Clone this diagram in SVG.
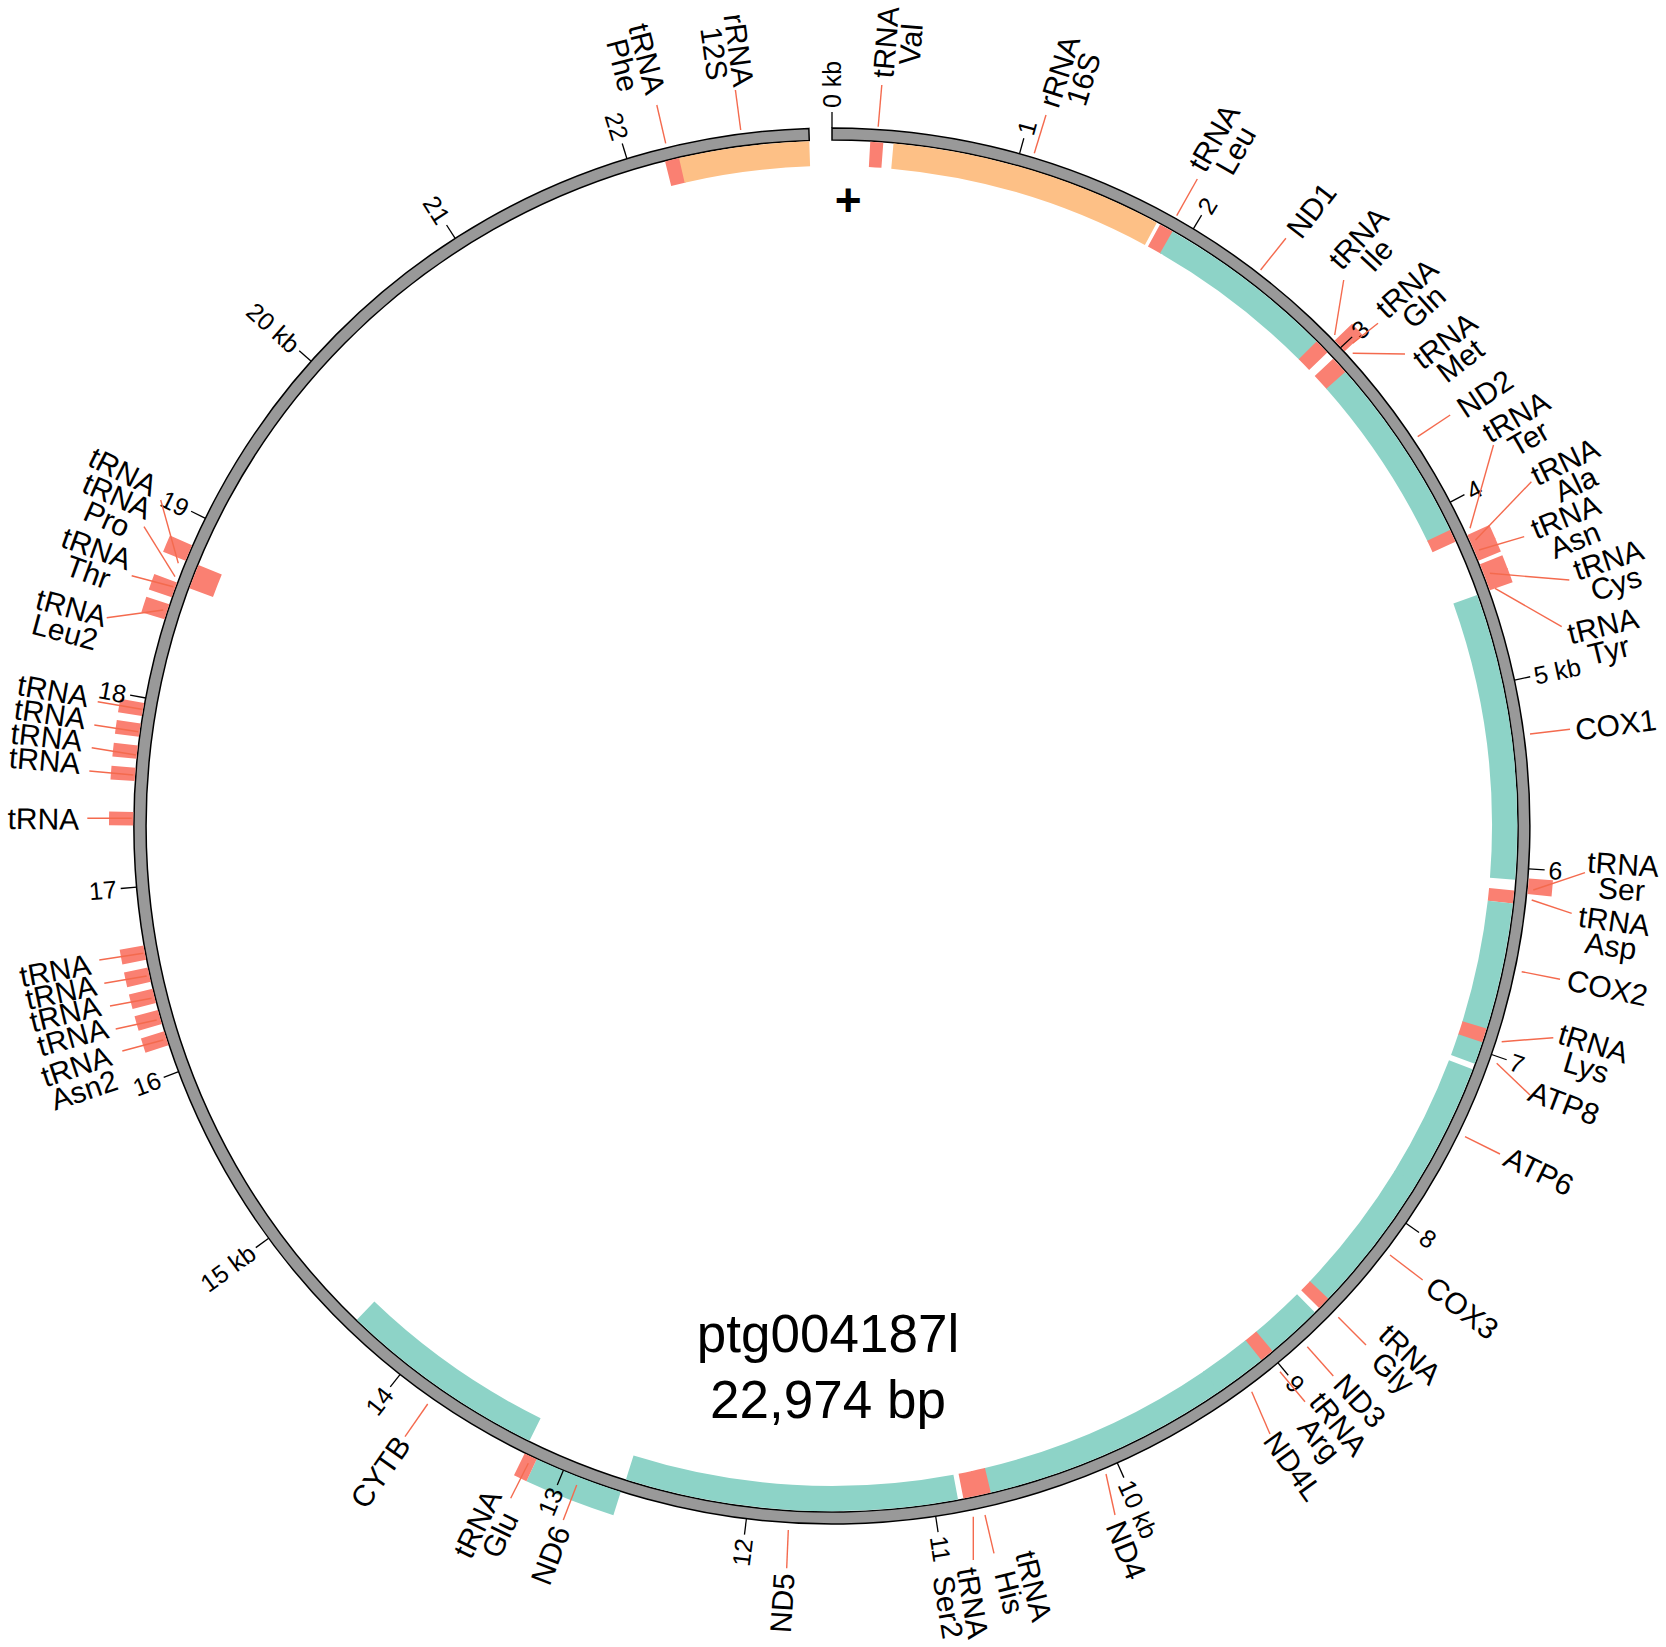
<svg xmlns="http://www.w3.org/2000/svg" width="1666" height="1647" viewBox="0 0 1666 1647">
<style>
text{font-family:'Liberation Sans',Arial,Helvetica,sans-serif;fill:#000}
.lab,.lab tspan{font-size:30px;text-anchor:middle;dominant-baseline:central}
.tk line{stroke:#000;stroke-width:1.3}
.tk text{font-size:25px;text-anchor:start;dominant-baseline:central}
.tk text.e{text-anchor:end}
.in{fill:none;stroke-width:25.2}
.out{fill:none;stroke-width:24.2}
.trna{stroke:#FA8072}
.rrna{stroke:#FDC086}
.gene{stroke:#8DD3C7}
</style>
<rect width="1666" height="1647" fill="#fff"/>
<g id="ring" transform="translate(832 826)">
<path d="M 0,-698 A 698 698 0 1 1 -23.15,-697.62 L -22.75,-685.62 A 686 686 0 1 0 0,-686 Z" fill="#999" stroke="#000" stroke-width="1.5"/>
</g>
<g id="features" transform="translate(832 826)">
<g id="f-trna-val"><circle class="in trna" r="672.6" stroke-dasharray="12.91 5000" transform="rotate(-86.8)"/><text class="lab" transform="rotate(-85.2) translate(785.5 0)"><tspan x="0" y="-12.5">tRNA</tspan><tspan x="0" y="12.5">Val</tspan></text></g>
<g id="f-rrna-16s"><circle class="in rrna" r="672.6" stroke-dasharray="271.76 5000" transform="rotate(-84.85)"/><text class="lab" transform="rotate(-72.35) translate(788 0)"><tspan x="0" y="-12.5">rRNA</tspan><tspan x="0" y="12.5">16S</tspan></text></g>
<g id="f-trna-leu"><circle class="in trna" r="672.6" stroke-dasharray="15.26 5000" transform="rotate(-61.4)"/><text class="lab" transform="rotate(-60.1) translate(787 0)"><tspan x="0" y="-12.5">tRNA</tspan><tspan x="0" y="12.5">Leu</tspan></text></g>
<g id="f-nd1"><circle class="in gene" r="672.6" stroke-dasharray="179.61 5000" transform="rotate(-60.2)"/><text class="lab" transform="rotate(-52.13) translate(780.3 0)"><tspan x="0" y="0">ND1</tspan></text></g>
<g id="f-trna-ile"><circle class="in trna" r="672.6" stroke-dasharray="15.26 5000" transform="rotate(-45)"/><text class="lab" transform="rotate(-47.3) translate(789 0)"><tspan x="0" y="-12.5">tRNA</tspan><tspan x="0" y="12.5">Ile</tspan></text></g>
<g id="f-trna-met"><circle class="in trna" r="672.6" stroke-dasharray="18.78 5000" transform="rotate(-43)"/><text class="lab" transform="rotate(-37.5) translate(781.7 0)"><tspan x="0" y="-12.5">tRNA</tspan><tspan x="0" y="12.5">Met</tspan></text></g>
<g id="f-nd2"><circle class="in gene" r="672.6" stroke-dasharray="187.82 5000" transform="rotate(-41.5)"/><text class="lab" transform="rotate(-33.55) translate(783 0)"><tspan x="0" y="0">ND2</tspan></text></g>
<g id="f-trna-ter"><circle class="in trna" r="672.6" stroke-dasharray="12.91 5000" transform="rotate(-25.6)"/><text class="lab" transform="rotate(-30.04) translate(797 0)"><tspan x="0" y="-12.5">tRNA</tspan><tspan x="0" y="12.5">Ter</tspan></text></g>
<g id="f-cox1"><circle class="in gene" r="672.6" stroke-dasharray="284.08 5000" transform="rotate(-19.7)"/><text class="lab" transform="rotate(-7.4) translate(790.3 0)"><tspan x="0" y="0">COX1</tspan></text></g>
<g id="f-trna-asp"><circle class="in trna" r="672.6" stroke-dasharray="12.91 5000" transform="rotate(5.4)"/><text class="lab" transform="rotate(7.8) translate(787.8 0)"><tspan x="0" y="-12.5">tRNA</tspan><tspan x="0" y="12.5">Asp</tspan></text></g>
<g id="f-cox2"><circle class="in gene" r="672.6" stroke-dasharray="126.78 5000" transform="rotate(6.5)"/><text class="lab" transform="rotate(11.75) translate(792 0)"><tspan x="0" y="0">COX2</tspan></text></g>
<g id="f-trna-lys"><circle class="in trna" r="672.6" stroke-dasharray="15.26 5000" transform="rotate(17.2)"/><text class="lab" transform="rotate(16.8) translate(791.8 0)"><tspan x="0" y="-12.5">tRNA</tspan><tspan x="0" y="12.5">Lys</tspan></text></g>
<g id="f-atp8"><circle class="in gene" r="672.6" stroke-dasharray="22.30 5000" transform="rotate(18.4)"/><text class="lab" transform="rotate(20.7) translate(782.7 0)"><tspan x="0" y="0">ATP8</tspan></text></g>
<g id="f-atp6"><circle class="in gene" r="672.6" stroke-dasharray="126.78 5000" transform="rotate(20.8)"/><text class="lab" transform="rotate(26) translate(786.7 0)"><tspan x="0" y="0">ATP6</tspan></text></g>
<g id="f-cox3"><circle class="in gene" r="672.6" stroke-dasharray="143.22 5000" transform="rotate(31.5)"/><text class="lab" transform="rotate(37.37) translate(793.3 0)"><tspan x="0" y="0">COX3</tspan></text></g>
<g id="f-trna-gly"><circle class="in trna" r="672.6" stroke-dasharray="12.91 5000" transform="rotate(43.6)"/><text class="lab" transform="rotate(43.3) translate(783 0)"><tspan x="0" y="-12.5">tRNA</tspan><tspan x="0" y="12.5">Gly</tspan></text></g>
<g id="f-nd3"><circle class="in gene" r="672.6" stroke-dasharray="57.52 5000" transform="rotate(45.2)"/><text class="lab" transform="rotate(47.4) translate(780.4 0)"><tspan x="0" y="0">ND3</tspan></text></g>
<g id="f-trna-arg"><circle class="in trna" r="672.6" stroke-dasharray="15.26 5000" transform="rotate(50)"/><text class="lab" transform="rotate(50.6) translate(783.5 0)"><tspan x="0" y="-12.5">tRNA</tspan><tspan x="0" y="12.5">Arg</tspan></text></g>
<g id="f-nd4l"><circle class="in gene" r="672.6" stroke-dasharray="54.0 5000" transform="rotate(51.2)"/><text class="lab" transform="rotate(54.2) translate(788.8 0)"><tspan x="0" y="0">ND4L</tspan></text></g>
<g id="f-nd4"><circle class="in gene" r="672.6" stroke-dasharray="246.52 5000" transform="rotate(55.7)"/><text class="lab" transform="rotate(67.85) translate(781.7 0)"><tspan x="0" y="0">ND4</tspan></text></g>
<g id="f-trna-his"><circle class="in trna" r="672.6" stroke-dasharray="14.67 5000" transform="rotate(76.6)"/><text class="lab" transform="rotate(76) translate(786.4 0)"><tspan x="0" y="-12.5">tRNA</tspan><tspan x="0" y="12.5">His</tspan></text></g>
<g id="f-trna-ser2"><circle class="in trna" r="672.6" stroke-dasharray="14.09 5000" transform="rotate(77.75)"/><text class="lab" transform="rotate(80.6) translate(789.6 0)"><tspan x="0" y="-12.5">tRNA</tspan><tspan x="0" y="12.5">Ser2</tspan></text></g>
<g id="f-nd5"><circle class="in gene" r="672.6" stroke-dasharray="329.87 5000" transform="rotate(79.4)"/><text class="lab" transform="rotate(93.7) translate(778.6 0) rotate(180)"><tspan x="0" y="0">ND5</tspan></text></g>
<g id="f-cytb"><circle class="in gene" r="672.6" stroke-dasharray="207.78 5000" transform="rotate(116.2)"/><text class="lab" transform="rotate(124.99) translate(788.2 0) rotate(180)"><tspan x="0" y="0">CYTB</tspan></text></g>
<g id="f-trna-pro"><circle class="in trna" r="672.6" stroke-dasharray="24.65 5000" transform="rotate(200.3)"/><text class="lab" transform="rotate(203.9) translate(787.2 0) rotate(180)"><tspan x="0" y="-12.5">tRNA</tspan><tspan x="0" y="12.5">Pro</tspan></text></g>
<g id="f-trna-phe"><circle class="in trna" r="672.6" stroke-dasharray="15.26 5000" transform="rotate(255.9)"/><text class="lab" transform="rotate(255.57) translate(789 0) rotate(180)"><tspan x="0" y="-12.5">tRNA</tspan><tspan x="0" y="12.5">Phe</tspan></text></g>
<g id="f-rrna-12s"><circle class="in rrna" r="672.6" stroke-dasharray="129.13 5000" transform="rotate(257.1)"/><text class="lab" transform="rotate(262.28) translate(781.4 0) rotate(180)"><tspan x="0" y="-12.5">rRNA</tspan><tspan x="0" y="12.5">12S</tspan></text></g>

<g id="f-trna-gln"><circle class="out trna" r="710.9" stroke-dasharray="14.89 5000" transform="rotate(-44)"/><text class="lab" transform="rotate(-42.22) translate(787 0)"><tspan x="0" y="-12.5">tRNA</tspan><tspan x="0" y="12.5">Gln</tspan></text></g>
<g id="f-trna-ala"><circle class="out trna" r="710.9" stroke-dasharray="14.89 5000" transform="rotate(-24.6)"/><text class="lab" transform="rotate(-25.6) translate(818.5 0)"><tspan x="0" y="-12.5">tRNA</tspan><tspan x="0" y="12.5">Ala</tspan></text></g>
<g id="f-trna-asn"><circle class="out trna" r="710.9" stroke-dasharray="14.89 5000" transform="rotate(-23.5)"/><text class="lab" transform="rotate(-22) translate(796 0)"><tspan x="0" y="-12.5">tRNA</tspan><tspan x="0" y="12.5">Asn</tspan></text></g>
<g id="f-trna-cys"><circle class="out trna" r="710.9" stroke-dasharray="14.89 5000" transform="rotate(-22)"/><text class="lab" transform="rotate(-18.1) translate(820.6 0)"><tspan x="0" y="-12.5">tRNA</tspan><tspan x="0" y="12.5">Cys</tspan></text></g>
<g id="f-trna-tyr"><circle class="out trna" r="710.9" stroke-dasharray="14.89 5000" transform="rotate(-20.9)"/><text class="lab" transform="rotate(-13.7) translate(796.4 0)"><tspan x="0" y="-12.5">tRNA</tspan><tspan x="0" y="12.5">Tyr</tspan></text></g>
<g id="f-trna-ser"><circle class="out trna" r="710.9" stroke-dasharray="16.13 5000" transform="rotate(4.3)"/><text class="lab" transform="rotate(3.64) translate(792 0)"><tspan x="0" y="-12.5">tRNA</tspan><tspan x="0" y="12.5">Ser</tspan></text></g>
<g id="f-nd6"><circle class="out gene" r="710.9" stroke-dasharray="91.82 5000" transform="rotate(107.6)"/><text class="lab" transform="rotate(111.15) translate(781.6 0) rotate(180)"><tspan x="0" y="0">ND6</tspan></text></g>
<g id="f-trna-glu"><circle class="out trna" r="710.9" stroke-dasharray="13.65 5000" transform="rotate(115)"/><text class="lab" transform="rotate(116.07) translate(782.7 0) rotate(180)"><tspan x="0" y="-12.5">tRNA</tspan><tspan x="0" y="12.5">Glu</tspan></text></g>
<g id="f-trna-asn2"><circle class="out trna" r="710.9" stroke-dasharray="14.89 5000" transform="rotate(161.72)"/><text class="lab" transform="rotate(161.5) translate(793 0) rotate(180)"><tspan x="0" y="-12.5">tRNA</tspan><tspan x="0" y="12.5">Asn2</tspan></text></g>
<g id="f-trna-u4"><circle class="out trna" r="710.9" stroke-dasharray="14.89 5000" transform="rotate(163.54)"/><text class="lab" transform="rotate(164.5) translate(788.2 0) rotate(180)"><tspan x="0" y="0">tRNA</tspan></text></g>
<g id="f-trna-u3"><circle class="out trna" r="710.9" stroke-dasharray="14.89 5000" transform="rotate(165.33)"/><text class="lab" transform="rotate(166.28) translate(789.5 0) rotate(180)"><tspan x="0" y="0">tRNA</tspan></text></g>
<g id="f-trna-u2"><circle class="out trna" r="710.9" stroke-dasharray="14.89 5000" transform="rotate(167.12)"/><text class="lab" transform="rotate(167.87) translate(788.8 0) rotate(180)"><tspan x="0" y="0">tRNA</tspan></text></g>
<g id="f-trna-u1"><circle class="out trna" r="710.9" stroke-dasharray="14.89 5000" transform="rotate(168.96)"/><text class="lab" transform="rotate(169.5) translate(790.2 0) rotate(180)"><tspan x="0" y="0">tRNA</tspan></text></g>
<g id="f-trna-u5"><circle class="out trna" r="710.9" stroke-dasharray="13.65 5000" transform="rotate(180.05)"/><text class="lab" transform="rotate(180.56) translate(788.7 0) rotate(180)"><tspan x="0" y="0">tRNA</tspan></text></g>
<g id="f-trna-u6"><circle class="out trna" r="710.9" stroke-dasharray="13.65 5000" transform="rotate(183.69)"/><text class="lab" transform="rotate(184.8) translate(790 0) rotate(180)"><tspan x="0" y="0">tRNA</tspan></text></g>
<g id="f-trna-u7"><circle class="out trna" r="710.9" stroke-dasharray="13.65 5000" transform="rotate(185.52)"/><text class="lab" transform="rotate(186.5) translate(790.4 0) rotate(180)"><tspan x="0" y="0">tRNA</tspan></text></g>
<g id="f-trna-u8"><circle class="out trna" r="710.9" stroke-dasharray="13.65 5000" transform="rotate(187.34)"/><text class="lab" transform="rotate(188.2) translate(790 0) rotate(180)"><tspan x="0" y="0">tRNA</tspan></text></g>
<g id="f-trna-u9"><circle class="out trna" r="710.9" stroke-dasharray="13.65 5000" transform="rotate(189.05)"/><text class="lab" transform="rotate(189.9) translate(790.5 0) rotate(180)"><tspan x="0" y="0">tRNA</tspan></text></g>
<g id="f-trna-leu2"><circle class="out trna" r="710.9" stroke-dasharray="16.13 5000" transform="rotate(197.2)"/><text class="lab" transform="rotate(195.15) translate(791.2 0) rotate(180)"><tspan x="0" y="-12.5">tRNA</tspan><tspan x="0" y="12.5">Leu2</tspan></text></g>
<g id="f-trna-thr"><circle class="out trna" r="710.9" stroke-dasharray="16.13 5000" transform="rotate(199.1)"/><text class="lab" transform="rotate(199.8) translate(785.9 0) rotate(180)"><tspan x="0" y="-12.5">tRNA</tspan><tspan x="0" y="12.5">Thr</tspan></text></g>
<g id="f-trna-u10"><circle class="out trna" r="710.9" stroke-dasharray="17.37 5000" transform="rotate(202.3)"/><text class="lab" transform="rotate(206.6) translate(792.7 0) rotate(180)"><tspan x="0" y="0">tRNA</tspan></text></g>
</g>
<g id="ticks" class="tk" transform="translate(832 826)">
<g transform="rotate(-90)"><line x1="698" x2="714"/><text x="718">0 kb</text></g>
<g transform="rotate(-74.413)"><line x1="698" x2="714"/><text x="718">1</text></g>
<g transform="rotate(-58.826)"><line x1="698" x2="714"/><text x="718">2</text></g>
<g transform="rotate(-43.239)"><line x1="698" x2="714"/><text x="718">3</text></g>
<g transform="rotate(-27.652)"><line x1="698" x2="714"/><text x="718">4</text></g>
<g transform="rotate(-12.065)"><line x1="698" x2="714"/><text x="718">5 kb</text></g>
<g transform="rotate(3.522)"><line x1="698" x2="714"/><text x="718">6</text></g>
<g transform="rotate(19.109)"><line x1="698" x2="714"/><text x="718">7</text></g>
<g transform="rotate(34.696)"><line x1="698" x2="714"/><text x="718">8</text></g>
<g transform="rotate(50.283)"><line x1="698" x2="714"/><text x="718">9</text></g>
<g transform="rotate(65.87)"><line x1="698" x2="714"/><text x="718">10 kb</text></g>
<g transform="rotate(81.457)"><line x1="698" x2="714"/><text x="718">11</text></g>
<g transform="rotate(97.044)"><line x1="698" x2="714"/><text class="e" transform="translate(718 0) rotate(180)">12</text></g>
<g transform="rotate(112.631)"><line x1="698" x2="714"/><text class="e" transform="translate(718 0) rotate(180)">13</text></g>
<g transform="rotate(128.218)"><line x1="698" x2="714"/><text class="e" transform="translate(718 0) rotate(180)">14</text></g>
<g transform="rotate(143.805)"><line x1="698" x2="714"/><text class="e" transform="translate(718 0) rotate(180)">15 kb</text></g>
<g transform="rotate(159.392)"><line x1="698" x2="714"/><text class="e" transform="translate(718 0) rotate(180)">16</text></g>
<g transform="rotate(174.979)"><line x1="698" x2="714"/><text class="e" transform="translate(718 0) rotate(180)">17</text></g>
<g transform="rotate(190.566)"><line x1="698" x2="714"/><text class="e" transform="translate(718 0) rotate(180)">18</text></g>
<g transform="rotate(206.153)"><line x1="698" x2="714"/><text class="e" transform="translate(718 0) rotate(180)">19</text></g>
<g transform="rotate(221.74)"><line x1="698" x2="714"/><text class="e" transform="translate(718 0) rotate(180)">20 kb</text></g>
<g transform="rotate(237.327)"><line x1="698" x2="714"/><text class="e" transform="translate(718 0) rotate(180)">21</text></g>
<g transform="rotate(252.914)"><line x1="698" x2="714"/><text class="e" transform="translate(718 0) rotate(180)">22</text></g>
</g>
<g id="connectors" stroke="#F46A4E" stroke-width="1.4">
<line x1="665.7" y1="143.3" x2="656.8" y2="105"/>
<line x1="740.7" y1="130" x2="735.4" y2="90"/>
<line x1="878.2" y1="126.7" x2="881.8" y2="85"/>
<line x1="1034.3" y1="153.3" x2="1046" y2="115"/>
<line x1="1176.7" y1="215.6" x2="1197.3" y2="179"/>
<line x1="1260.6" y1="270" x2="1285.9" y2="238.3"/>
<line x1="1334.7" y1="335" x2="1343.7" y2="280"/>
<line x1="1352.7" y1="343.3" x2="1378" y2="323.3"/>
<line x1="1352.7" y1="353.3" x2="1405" y2="354"/>
<line x1="1417.7" y1="436.7" x2="1450.2" y2="415"/>
<line x1="1470" y1="528.3" x2="1493.5" y2="445"/>
<line x1="1475.5" y1="540" x2="1531.4" y2="481.7"/>
<line x1="1479" y1="550" x2="1524.2" y2="536.7"/>
<line x1="1489.9" y1="573.3" x2="1569.3" y2="580"/>
<line x1="1495" y1="588.3" x2="1561.7" y2="626.7"/>
<line x1="1530" y1="734" x2="1570" y2="729.3"/>
<line x1="1533.3" y1="890" x2="1585" y2="872.7"/>
<line x1="1531.7" y1="900" x2="1571.7" y2="913.3"/>
<line x1="1521.7" y1="971.7" x2="1560" y2="979.3"/>
<line x1="1501.7" y1="1041.7" x2="1553.3" y2="1037.7"/>
<line x1="1496.7" y1="1063.3" x2="1530" y2="1095"/>
<line x1="1465" y1="1136.7" x2="1500" y2="1154"/>
<line x1="1390" y1="1255" x2="1422.7" y2="1280"/>
<line x1="1338.3" y1="1317.3" x2="1366" y2="1345"/>
<line x1="1307.3" y1="1346.7" x2="1333.3" y2="1376"/>
<line x1="1280" y1="1371.7" x2="1305" y2="1401.7"/>
<line x1="1251.7" y1="1391.7" x2="1270" y2="1434"/>
<line x1="1106" y1="1474" x2="1115" y2="1515"/>
<line x1="985" y1="1515" x2="994" y2="1553.3"/>
<line x1="973.3" y1="1516.7" x2="973.3" y2="1560"/>
<line x1="788.3" y1="1530" x2="786.7" y2="1568.3"/>
<line x1="576.7" y1="1485" x2="563.3" y2="1520"/>
<line x1="528.3" y1="1463.3" x2="510.7" y2="1498.3"/>
<line x1="427.7" y1="1404" x2="405" y2="1436.7"/>
<line x1="143.3" y1="953.3" x2="99.3" y2="960"/>
<line x1="146.7" y1="976" x2="104.3" y2="983.3"/>
<line x1="151.7" y1="998.3" x2="110" y2="1006"/>
<line x1="156.7" y1="1020" x2="115.7" y2="1029"/>
<line x1="163.3" y1="1040" x2="122.3" y2="1051"/>
<line x1="131.7" y1="818.3" x2="87.3" y2="818.3"/>
<line x1="133.3" y1="775" x2="89.3" y2="771"/>
<line x1="136" y1="755" x2="91.7" y2="747.7"/>
<line x1="138.3" y1="731.7" x2="94.3" y2="725"/>
<line x1="141.7" y1="709.3" x2="97.7" y2="701.7"/>
<line x1="163.3" y1="610" x2="106.7" y2="617.7"/>
<line x1="173.3" y1="586.7" x2="131.7" y2="575.7"/>
<line x1="175" y1="576.7" x2="144" y2="526.7"/>
<line x1="178.3" y1="563.3" x2="160.7" y2="500"/>
</g>
<g id="strand"><text x="848.3" y="216" font-size="46" font-weight="bold" text-anchor="middle">+</text></g>
<g id="title" font-size="53" text-anchor="middle">
<text x="828" y="1352">ptg004187l</text>
<text x="828" y="1418">22,974 bp</text>
</g>
</svg>
